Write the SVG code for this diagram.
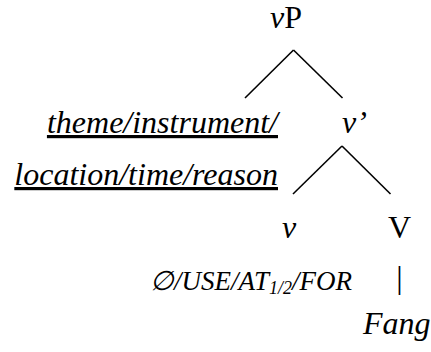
<svg xmlns="http://www.w3.org/2000/svg" width="431" height="352" viewBox="0 0 431 352">
<style>
text{font-family:"Liberation Serif","Times New Roman",serif;font-size:32px;fill:#000}
.i{font-style:italic}
.u{text-decoration:underline}
.s{font-size:27px}
.sub{font-size:18px}
.edge{stroke:#000;stroke-width:1.6;fill:none;stroke-linecap:butt}
</style>
<rect width="431" height="352" fill="#fff"/>
<g id="connectors">
<line class="edge" x1="293.5" y1="50" x2="245" y2="98"/>
<line class="edge" x1="293.5" y1="50" x2="342.5" y2="98"/>
<line class="edge" x1="342" y1="146" x2="293" y2="194"/>
<line class="edge" x1="342" y1="146" x2="390.5" y2="194"/>
</g>
<g id="node-vP"><text x="270" y="28"><tspan class="i">v</tspan>P</text></g>
<g id="node-spec">
<text class="i u" x="278" y="133" text-anchor="end">theme/instrument/</text>
<text class="i u" x="278" y="185" text-anchor="end">location/time/reason</text>
</g>
<g id="node-vbar"><text class="i" x="342" y="133">v’</text></g>
<g id="node-v">
<text class="i" x="282" y="238">v</text>
<text class="i s" x="150" y="290">∅/USE/AT<tspan class="sub" dy="4">1/2</tspan><tspan dy="-4">/FOR</tspan></text>
</g>
<g id="node-V">
<text x="399.5" y="288" text-anchor="middle">|</text>
<text x="388" y="238">V</text>
<text class="i" x="363" y="334">Fang</text>
</g>
</svg>
